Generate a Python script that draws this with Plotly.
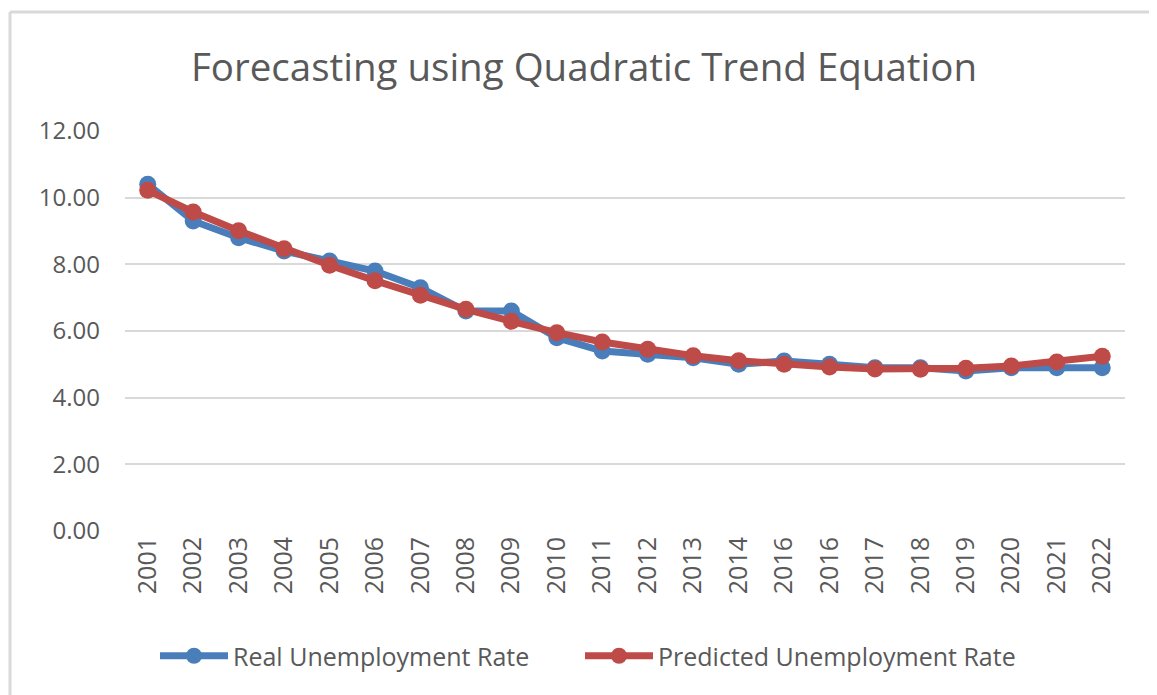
import plotly.graph_objects as go

years = ["2001", "2002", "2003", "2004", "2005", "2006", "2007", "2008", "2009", "2010",
         "2011", "2012", "2013", "2014", "2016", "2016", "2017", "2018", "2019", "2020",
         "2021", "2022"]
real_rate = [10.4, 9.3, 8.8, 8.4, 8.1, 7.8, 7.3, 6.6, 6.6, 5.8,
             5.4, 5.3, 5.2, 5.0, 5.1, 5.0, 4.9, 4.9, 4.8, 4.9,
             4.9, 4.9]
predicted_rate = [10.22, 9.57, 9.01, 8.47, 7.97, 7.51, 7.07, 6.65, 6.29, 5.95,
                  5.67, 5.45, 5.26, 5.11, 5.00, 4.92, 4.86, 4.85, 4.88, 4.95,
                  5.07, 5.24]
y_ticks = [0, 2, 4, 6, 8, 10, 12]

pos = list(range(len(years)))
FONT = "Open Sans"
TXT = "#595959"
GRID = "#d9d9d9"

fig = go.Figure()
fig.add_trace(go.Scatter(
    x=pos, y=real_rate, mode="lines+markers", name="Real Unemployment Rate",
    line=dict(color="#4a7ebb", width=7),
    marker=dict(color="#4a7ebb", size=17),
    legend="legend",
))
fig.add_trace(go.Scatter(
    x=pos, y=predicted_rate, mode="lines+markers", name="Predicted Unemployment Rate",
    line=dict(color="#be4b48", width=7),
    marker=dict(color="#be4b48", size=17),
    legend="legend2",
))

legend_style = dict(orientation="h", yanchor="middle", y=-0.3125, xanchor="left",
                    font=dict(family=FONT, size=25, color=TXT), itemwidth=68,
                    bgcolor="rgba(0,0,0,0)")

fig.update_layout(
    width=1149, height=687,
    margin=dict(l=117, r=32, t=123, b=164),
    paper_bgcolor="white", plot_bgcolor="white",
    font=dict(family=FONT, color=TXT, size=24),
    title=dict(text="Forecasting using Quadratic Trend Equation",
               font=dict(family=FONT, size=38.5, color=TXT),
               x=0.5013, xanchor="center", y=0.9127, yanchor="middle"),
    showlegend=True,
    legend=dict(x=0.030, **legend_style),
    legend2=dict(x=0.455, **legend_style),
    xaxis=dict(
        tickmode="array", tickvals=pos, ticktext=years, tickangle=-90,
        range=[-0.5, len(years) - 0.5], showgrid=False, zeroline=False,
        showline=False, ticks="", tickfont=dict(size=25, color=TXT),
    ),
    yaxis=dict(
        range=[0, 12], tickvals=y_ticks, tickformat=".2f",
        showgrid=True, gridcolor=GRID, gridwidth=2, zeroline=False,
        showline=False, ticks="", ticklabelstandoff=24,
        tickfont=dict(size=24, color=TXT),
    ),
)

# chart area border (top and left edges visible in the reference)
fig.add_shape(type="line", xref="paper", yref="paper",
              x0=-0.115, x1=1.04, y0=1.2975, y1=1.2975,
              line=dict(color=GRID, width=3))
fig.add_shape(type="line", xref="paper", yref="paper",
              x0=-0.115, x1=-0.115, y0=-0.42, y1=1.2975,
              line=dict(color=GRID, width=3))

fig.write_html("out.html")
